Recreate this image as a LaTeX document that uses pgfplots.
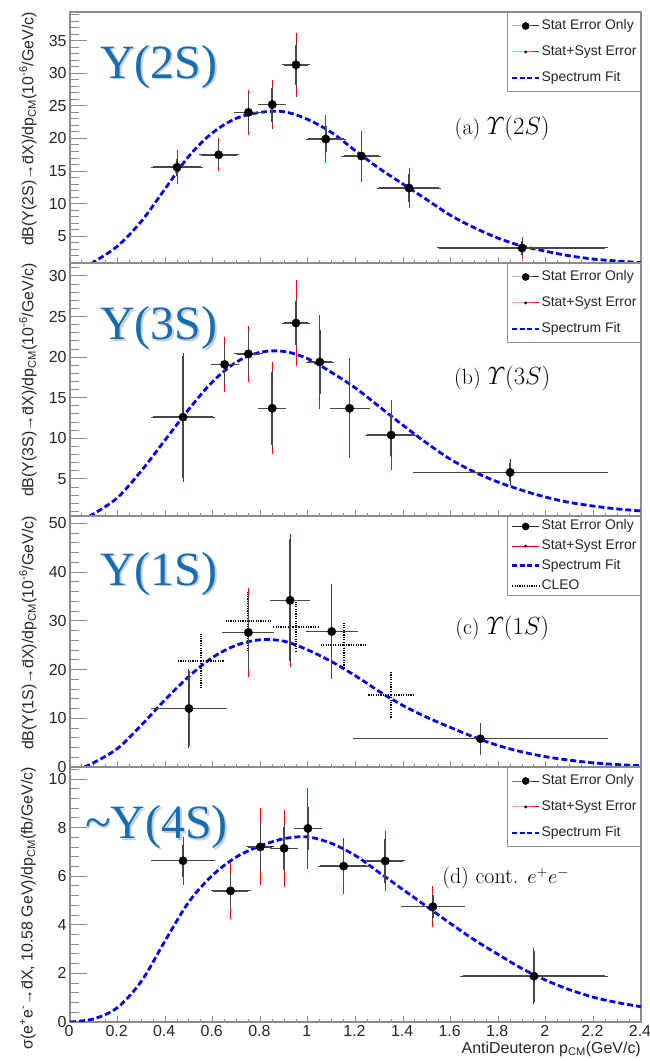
\documentclass[border=0pt]{standalone}
\usepackage[no-math]{fontspec}
\usepackage{amsmath}
\usepackage{pgfplots}
\usepackage{pgfplotstable}
\pgfplotsset{compat=1.18}
\setmainfont{Liberation Sans}
\newfontfamily\serifbig{Liberation Serif}
\definecolor{fitblue}{RGB}{0,0,255}
\definecolor{bigblue}{RGB}{20,110,180}
\definecolor{framegray}{RGB}{140,140,140}

\pgfplotstableread{
x y ex es et
0.45 15.6 0.10 1.3 2.3
0.625 17.5 0.075 1.5 2.2
0.75 24.0 0.05 2.5 3.1
0.85 25.2 0.05 2.6 3.5
0.95 31.3 0.05 3.1 4.6
1.075 19.9 0.075 2.0 3.4
1.225 17.3 0.075 3.0 3.6
1.425 12.4 0.125 2.2 2.8
1.90 3.2 0.35 1.0 1.4
}\dataA
\pgfplotstableread{
x y ex es et
0.475 12.6 0.125 7.5 7.7
0.65 19.1 0.05 2.3 3.1
0.75 20.4 0.05 2.5 3.2
0.85 13.7 0.05 4.5 5.4
0.95 24.2 0.05 2.7 5.0
1.05 19.4 0.05 4.0 5.5
1.175 13.7 0.075 3.6 5.9
1.35 10.4 0.10 2.6 4.1
1.85 5.8 0.40 1.1 1.4
}\dataB
\pgfplotstableread{
x y ex es et
0.50 12.0 0.15 7.2 7.6
0.75 27.6 0.10 7.0 8.7
0.925 34.2 0.075 12.5 13.2
1.10 27.8 0.10 9.0 9.4
1.725 5.8 0.525 2.6 2.9
}\dataC
\pgfplotstableread{
x y ex ey
0.55 21.8 0.10 5.5
0.75 29.9 0.10 6.0
0.95 28.8 0.10 5.1
1.15 25.0 0.10 4.6
1.35 14.8 0.10 4.7
}\dataCleo
\pgfplotstableread{
x y ex es et
0.475 6.64 0.125 0.65 0.90
0.675 5.40 0.075 0.60 1.07
0.80 7.21 0.05 0.90 1.50
0.90 7.15 0.05 0.88 1.50
1.00 7.97 0.05 0.90 1.60
1.15 6.42 0.10 0.63 1.07
1.325 6.63 0.075 0.90 1.16
1.525 4.75 0.125 0.48 0.75
1.95 1.89 0.30 1.05 1.05
}\dataD

\pgfplotsset{
  panel/.style={
    scale only axis, width=571bp, xmin=0, xmax=2.4,
    axis line style={framegray, line width=1.3bp},
    tick align=inside, xtick pos=bottom, ytick pos=left,
    xtick={0,0.2,...,2.4}, minor xtick={0,0.05,...,2.4},
    xtick style={framegray, line width=1bp, /pgfplots/major tick length=6bp, /pgfplots/minor tick length=3bp},
    ytick style={framegray, line width=1bp, /pgfplots/major tick length=17bp, /pgfplots/minor tick length=9bp},
    ticklabel style={font=\fontsize{16}{18}\selectfont, text=black!85},
    /pgf/number format/assume math mode=true,
    ylabel style={at={(axis description cs:-0.0736,1)}, anchor=east, rotate=0, font=\fontsize{16}{19}\selectfont, text=black!85, inner sep=0pt},
    legend cell align=left,
    legend style={at={(1,1)}, anchor=north east, draw=framegray, line width=1bp, fill=white,
      font=\fontsize{14}{16}\selectfont, inner xsep=3bp, inner ysep=6bp, row sep=11bp,
      nodes={inner sep=1bp, text height=10bp, text depth=3bp, text=black!85}},
    legend image code/.code={\draw[mark repeat=2,mark phase=2] plot coordinates {(0bp,0bp)(13.5bp,0bp)(27bp,0bp)};},
  },
  fitline/.style={fitblue, line width=2.8bp, dash pattern=on 6bp off 3bp, smooth, tension=0.55, forget plot},
  toterr/.style={draw=none, mark=none, forget plot,
    error bars/.cd, y dir=both, y explicit,
    error bar style={draw=red, solid, line width=0.9bp},
    error mark options={draw=red, solid, mark size=2bp, line width=1bp}},
  staterr/.style={only marks, mark=*, mark size=4.2bp, black, forget plot,
    error bars/.cd, x dir=both, x explicit, y dir=both, y explicit,
    error bar style={draw=black!72, solid, line width=1.5bp},
    error mark options={draw=black!72, solid, mark size=2.2bp, line width=1bp}},
  legA/.style={black!85, line width=1bp, mark=*, mark size=3.3bp, mark options={black}},
  legB/.style={red, line width=1bp, mark=*, mark size=0.9bp, mark options={black}},
  legC/.style={fitblue, line width=2.8bp, dash pattern=on 5bp off 2.5bp},
  legD/.style={black, line width=2bp, dash pattern=on 1.2bp off 1.2bp},
}
\tikzset{
  bigshadow/.style={anchor=base west, inner sep=0pt, text=black, opacity=0.2, font=\fontsize{48}{48}\selectfont\serifbig},
  bigtext/.style={anchor=base west, inner sep=0pt, text=bigblue, font=\fontsize{48}{48}\selectfont\serifbig},
  tagtext/.style={font=\fontsize{22}{24}\selectfont\fontfamily{lmr}\selectfont},
}

\begin{document}
\begin{tikzpicture}
\useasboundingbox (-70bp,-39bp) rectangle (580bp,1022bp);

% ---------------- Panel (a) Y(2S)
\begin{axis}[panel, at={(0bp,759bp)}, anchor=south west, height=251bp,
  ymin=0.9, ymax=39.4, ytick={5,10,...,35}, minor ytick={1,2,...,39},
  xticklabels={},
  ylabel={dB(Υ(2S)→\=dX)/dp\textsubscript{CM}(10\textsuperscript{-6}/GeV/c)}]
\addlegendimage{legA}\addlegendentry{Stat Error Only}
\addlegendimage{legB}\addlegendentry{Stat+Syst Error}
\addlegendimage{legC}\addlegendentry{Spectrum Fit}
\addplot[fitline] coordinates {(0.093,0.9)(0.1,1.05)(0.2,3.5)(0.3,7.3)(0.4,12.3)(0.5,17.3)(0.6,20.9)(0.7,23.1)(0.8,24.0)(0.9,24.1)(1.0,22.9)(1.1,20.9)(1.2,18.1)(1.3,15.4)(1.4,13.0)(1.5,10.6)(1.6,8.2)(1.7,6.3)(1.8,4.7)(1.9,3.5)(2.0,2.7)(2.1,2.0)(2.2,1.5)(2.3,1.2)(2.4,0.95)};
\addplot[toterr] table[x=x, y=y, y error=et] {\dataA};
\addplot[staterr] table[x=x, y=y, x error=ex, y error=es] {\dataA};
\node[bigshadow] at ([xshift=1.8bp,yshift=-1.8bp]rel axis cs:0.053,0.737) {Y(2S)};
\node[bigtext] at (rel axis cs:0.053,0.737) {Y(2S)};
\node[tagtext] at (rel axis cs:0.757,0.538) {(a) {\fontsize{25.5}{28}\selectfont$\varUpsilon(2S)$}};
\end{axis}

% ---------------- Panel (b) Y(3S)
\begin{axis}[panel, at={(0bp,506bp)}, anchor=south west, height=253bp,
  ymin=0.43, ymax=31.6, ytick={5,10,...,30}, minor ytick={1,2,...,31},
  xticklabels={},
  ylabel={dB(Υ(3S)→\=dX)/dp\textsubscript{CM}(10\textsuperscript{-6}/GeV/c)}]
\addlegendimage{legA}\addlegendentry{Stat Error Only}
\addlegendimage{legB}\addlegendentry{Stat+Syst Error}
\addlegendimage{legC}\addlegendentry{Spectrum Fit}
\addplot[fitline] coordinates {(0.08,0.43)(0.1,0.7)(0.2,2.7)(0.3,6.0)(0.4,9.8)(0.5,13.6)(0.6,17.0)(0.7,19.4)(0.8,20.6)(0.9,20.7)(1.0,19.8)(1.1,18.1)(1.2,16.2)(1.3,13.9)(1.4,11.6)(1.5,9.4)(1.6,7.4)(1.7,5.85)(1.8,4.6)(1.9,3.6)(2.0,2.75)(2.1,2.1)(2.2,1.65)(2.3,1.3)(2.4,1.05)};
\addplot[toterr] table[x=x, y=y, y error=et] {\dataB};
\addplot[staterr] table[x=x, y=y, x error=ex, y error=es] {\dataB};
\node[bigshadow] at ([xshift=1.8bp,yshift=-1.8bp]rel axis cs:0.053,0.698) {Y(3S)};
\node[bigtext] at (rel axis cs:0.053,0.698) {Y(3S)};
\node[tagtext] at (rel axis cs:0.757,0.546) {(b) {\fontsize{25.5}{28}\selectfont$\varUpsilon(3S)$}};
\end{axis}

% ---------------- Panel (c) Y(1S)
\begin{axis}[panel, at={(0bp,255bp)}, anchor=south west, height=251bp,
  ymin=0, ymax=51.5, ytick={0,10,...,50}, minor ytick={2,4,...,50},
  xticklabels={},
  legend style={row sep=4.7bp, inner ysep=2.5bp},
  ylabel={dB(Υ(1S)→\=dX)/dp\textsubscript{CM}(10\textsuperscript{-6}/GeV/c)}]
\addlegendimage{legA}\addlegendentry{Stat Error Only}
\addlegendimage{legB}\addlegendentry{Stat+Syst Error}
\addlegendimage{legC}\addlegendentry{Spectrum Fit}
\addlegendimage{legD}\addlegendentry{CLEO}
\addplot[fitline] coordinates {(0.06,0.0)(0.1,0.9)(0.2,3.8)(0.3,8.6)(0.4,13.8)(0.5,18.6)(0.6,22.5)(0.7,25.0)(0.8,26.1)(0.9,25.8)(1.0,24.0)(1.1,21.6)(1.2,18.7)(1.3,15.5)(1.4,12.6)(1.5,10.2)(1.6,8.1)(1.7,6.1)(1.8,4.4)(1.9,3.1)(2.0,2.1)(2.1,1.4)(2.2,0.85)(2.3,0.5)(2.4,0.25)};
\addplot[draw=none, mark=none, forget plot,
  error bars/.cd, x dir=both, x explicit, y dir=both, y explicit,
  error bar style={draw=black, solid, line width=2bp, dash pattern=on 1.2bp off 1.2bp},
  error mark=none] table[x=x, y=y, x error=ex, y error=ey] {\dataCleo};
\addplot[toterr] table[x=x, y=y, y error=et] {\dataC};
\addplot[staterr] table[x=x, y=y, x error=ex, y error=es] {\dataC};
\node[bigshadow] at ([xshift=1.8bp,yshift=-1.8bp]rel axis cs:0.053,0.725) {Y(1S)};
\node[bigtext] at (rel axis cs:0.053,0.725) {Y(1S)};
\node[tagtext] at (rel axis cs:0.757,0.553) {(c) {\fontsize{25.5}{28}\selectfont$\varUpsilon(1S)$}};
\end{axis}

% ---------------- Panel (d) continuum
\begin{axis}[panel, at={(0bp,0bp)}, anchor=south west, height=255bp,
  ymin=0, ymax=10.5, ytick={0,2,...,10}, minor ytick={0.4,0.8,...,10.4},
  xticklabels={0,0.2,0.4,0.6,0.8,1,1.2,1.4,1.6,1.8,2,2.2,2.4},
  xticklabel style={xshift=-1bp},
  xlabel={AntiDeuteron p\textsubscript{CM}(GeV/c)},
  xlabel style={at={(axis description cs:1,0)}, anchor=north east, yshift=-19.5bp, inner sep=0pt, font=\fontsize{16}{19}\selectfont, text=black!85},
  ylabel={σ(e\textsuperscript{+}e\textsuperscript{-}→\=dX, 10.58 GeV)/dp\textsubscript{CM}(fb/GeV/c)}]
\addlegendimage{legA}\addlegendentry{Stat Error Only}
\addlegendimage{legB}\addlegendentry{Stat+Syst Error}
\addlegendimage{legC}\addlegendentry{Spectrum Fit}
\addplot[fitline] coordinates {(0.0,0.0)(0.1,0.13)(0.2,0.6)(0.3,1.68)(0.4,3.35)(0.5,4.95)(0.6,6.05)(0.7,6.8)(0.8,7.25)(0.9,7.55)(1.0,7.62)(1.1,7.35)(1.2,6.85)(1.3,6.15)(1.4,5.45)(1.5,4.75)(1.6,4.05)(1.7,3.38)(1.8,2.78)(1.9,2.2)(2.0,1.72)(2.1,1.33)(2.2,1.02)(2.3,0.8)(2.4,0.63)};
\addplot[toterr] table[x=x, y=y, y error=et] {\dataD};
\addplot[staterr] table[x=x, y=y, x error=ex, y error=es] {\dataD};
\node[bigshadow] at ([xshift=1.8bp,yshift=-1.8bp]rel axis cs:0.026,0.72) {\textasciitilde Y(4S)};
\node[bigtext] at (rel axis cs:0.026,0.72) {\textasciitilde Y(4S)};
\node[tagtext] at (rel axis cs:0.763,0.564) {(d) cont. $e^{+}e^{-}$};
\end{axis}
\end{tikzpicture}
\end{document}
